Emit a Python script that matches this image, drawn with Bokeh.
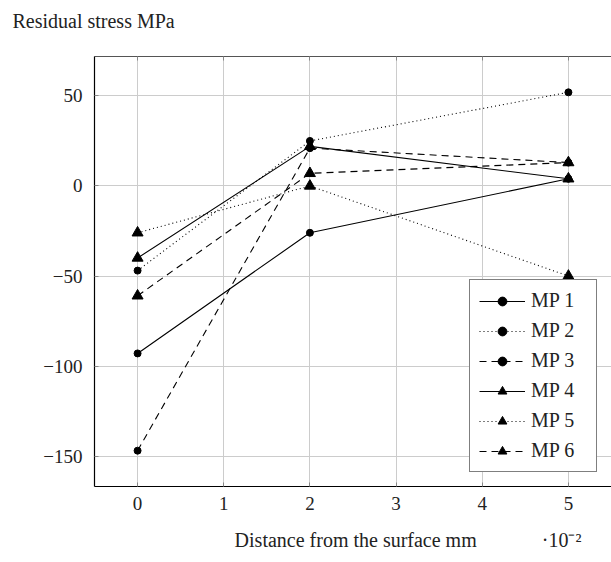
from bokeh.plotting import figure
from bokeh.models import Range1d, LinearAxis, FixedTicker, Legend, LegendItem
from bokeh.embed import file_html
from bokeh.resources import INLINE

# Data
x_vals = [0, 2, 5]
mp1 = [-93, -26, 4]
mp2 = [-47, 25, 52]
mp3 = [-147, 21, 13]
mp4 = [-40, 22, 4]
mp5 = [-26, 0, -50]
mp6 = [-61, 7, 13]
series_names = ["MP 1", "MP 2", "MP 3", "MP 4", "MP 5", "MP 6"]
x_ticks = [0, 1, 2, 3, 4, 5]
y_ticks = [-150, -100, -50, 0, 50]
x_label = "Distance from the surface mm"
x_scale_note = "\u00b710\u207b\u00b2"

FONT = "Liberation Serif"
NB = "\u00a0"

p = figure(width=611, height=562, output_backend="svg", toolbar_location=None,
           x_range=Range1d(-0.5, 5.5), y_range=Range1d(-166.9, 71.9),
           min_border_left=94, min_border_right=0, min_border_top=56, min_border_bottom=76)
p.frame_width = 517
p.frame_height = 430
p.outline_line_color = None
p.background_fill_color = "white"
p.border_fill_color = "white"

p.title.text = "Residual stress MPa"
p.title.align = "left"
p.title.offset = -82
p.title.vertical_align = "top"
p.title.text_font = FONT
p.title.text_font_size = "20px"
p.title.text_font_style = "normal"
p.title.text_color = "#222222"
p.title.standoff = 0
p.title.padding = dict(left=0, right=0, top=0, bottom=23)

# Axes
for ax in (p.xaxis[0], p.yaxis[0]):
    ax.axis_line_color = "black"
    ax.axis_line_width = 1.2
    ax.major_tick_in = 4
    ax.major_tick_out = 0
    ax.major_tick_line_color = "#888888"
    ax.minor_tick_line_color = None
    ax.major_label_text_font = FONT
    ax.major_label_text_font_size = "19px"
    ax.major_label_text_color = "#222222"

p.xaxis.ticker = FixedTicker(ticks=x_ticks)
p.yaxis.ticker = FixedTicker(ticks=y_ticks)
p.yaxis.major_label_overrides = {t: (("\u2212" + str(-t)) if t < 0 else str(t)) for t in y_ticks}
p.xaxis.major_label_standoff = 10
p.yaxis.major_label_standoff = 12

# axis label with the scale note on the right; symmetric padding keeps the main text centred
gap = 13
pad = NB * (gap + 9)
p.xaxis.axis_label = pad + x_label + NB * gap + x_scale_note
p.xaxis.axis_label_text_font = FONT
p.xaxis.axis_label_text_font_size = "20px"
p.xaxis.axis_label_text_font_style = "normal"
p.xaxis.axis_label_text_color = "#222222"
p.xaxis.axis_label_standoff = 16

top = LinearAxis(ticker=FixedTicker(ticks=x_ticks), major_label_text_font_size="0px",
                 major_label_text_color=None,
                 axis_line_color="#555555", major_tick_in=4, major_tick_out=0,
                 major_tick_line_color="#888888", minor_tick_line_color=None,
                 major_label_standoff=0)
p.add_layout(top, "above")

p.xgrid.ticker = FixedTicker(ticks=x_ticks)
p.ygrid.ticker = FixedTicker(ticks=y_ticks)
p.grid.grid_line_color = "#cccccc"
p.grid.grid_line_width = 1

series = [mp1, mp2, mp3, mp4, mp5, mp6]
dashes = ["solid", "1 3", "7 5", "solid", "1 3", "7 5"]
markers = ["circle", "circle", "circle", "triangle", "triangle", "triangle"]
sizes = [7, 7, 7, 11, 11, 11]

items = []
for name, ys, d, m, s in zip(series_names, series, dashes, markers, sizes):
    r1 = p.line(x_vals, ys, line_color="black", line_width=1.1, line_dash=d)
    r2 = p.scatter(x_vals, ys, marker=m, size=s, fill_color="black", line_color="black")
    items.append(LegendItem(label=name, renderers=[r1, r2]))

legend = Legend(items=items, location="bottom_right")
legend.label_text_font = FONT
legend.label_text_font_size = "20px"
legend.label_text_color = "#222222"
legend.glyph_width = 46
legend.glyph_height = 22
legend.label_height = 22
legend.label_width = 56
legend.spacing = 7
legend.padding = 9
legend.margin = 14
legend.label_standoff = 6
legend.border_line_color = "black"
legend.border_line_width = 1
legend.background_fill_alpha = 1
p.add_layout(legend, "center")

open("out.html", "w").write(file_html(p, INLINE))
